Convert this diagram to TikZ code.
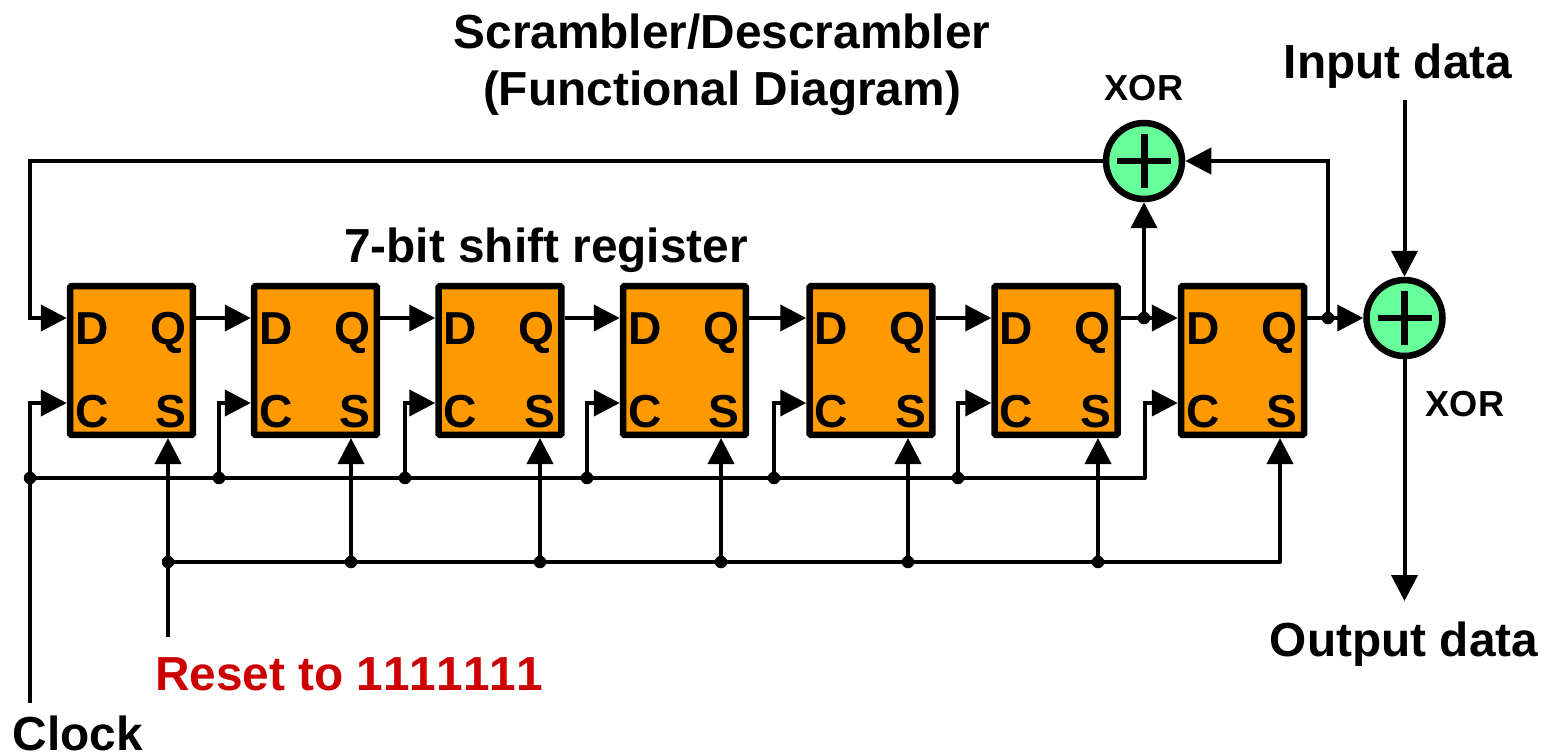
\documentclass[tikz,border=0pt]{standalone}
\usepackage{fontspec}
\setmainfont{Liberation Sans}
\usetikzlibrary{positioning, calc, arrows.meta}

\definecolor{regorange}{HTML}{FF9900}
\definecolor{xorgreen}{HTML}{66FF99}
\definecolor{resetred}{HTML}{CC0000}

\tikzset{
    reg/.style={draw, line width=0.13cm, fill=regorange, rounded corners=0.03cm, minimum width=2.46cm, minimum height=2.98cm, inner sep=0, outer sep=0.065cm},
    pinlabel/.style={inner sep=0, anchor=base, font=\fontsize{26.3}{26.3}\selectfont\bfseries},
    xorgate/.style={draw, circle, line width=0.13cm, fill=xorgreen, minimum size=1.52cm, inner sep=0, outer sep=0.065cm},
    wire/.style={line width=0.08cm},
    feed/.style={wire, -{Triangle[length=0.52cm, width=0.52cm]}},
    dot/.style={circle, fill=black, minimum size=0.25cm, inner sep=0},
    caption/.style={inner sep=0, anchor=base, font=\fontsize{27.2}{27.2}\selectfont\bfseries},
    smallcaption/.style={inner sep=0, anchor=base, font=\fontsize{20.6}{20.6}\selectfont\bfseries},
}

\begin{document}
\begin{tikzpicture}[x=0.02cm, y=-0.02cm]
    \useasboundingbox (0,0) rectangle (1545,755);

    % registers
    \foreach \n/\x/\s/\t in {1/131.5/168/30, 2/315.5/351/219, 3/500/540/405, 4/684.5/721/587, 5/871/908/774, 6/1056/1098/958, 7/1242.5/1280/1145} {
        \node[reg] (r\n) at (\x,360.5) {};
        \node[pinlabel] (d\n) at ($(r\n)+(-39.5,-16.5)$) {D};
        \node[pinlabel] (q\n) at ($(r\n)+(36.5,-16.5)$) {Q};
        \node[pinlabel] (c\n) at ($(r\n)+(-39.5,66.5)$) {C};
        \node[pinlabel] (s\n) at ($(r\n)+(39.5,66.5)$) {S};
        \coordinate (din\n) at (r\n.west |- 0,318);
        \coordinate (qout\n) at (r\n.east |- 0,318);
        \coordinate (cin\n) at (r\n.west |- 0,403);
        \coordinate (sin\n) at (\s,438);
        \coordinate (ctap\n) at (\t,478);
        \coordinate (stap\n) at (\s,562);
    }

    % xor gates
    \node[xorgate] (x1) at (1144,161) {};
    \node[xorgate] (x2) at (1404.5,318) {};
    \foreach \g in {x1, x2} {
        \draw[line width=0.13cm] ($(\g)-(27,0)$) -- ($(\g)+(27,0)$);
        \draw[line width=0.14cm] ($(\g)-(0,27)$) -- ($(\g)+(0,27)$);
    }

    % shift chain
    \foreach \a/\b in {1/2, 2/3, 3/4, 4/5, 5/6, 6/7} {
        \draw[feed] (qout\a) -- (din\b);
    }

    % clock
    \coordinate (clkend) at (30,703);
    \draw[wire] (clkend) -- (ctap1);
    \draw[wire, line cap=round] (ctap1) -- (ctap7);
    \foreach \n in {1,...,7} {
        \draw[feed] (ctap\n) |- (cin\n);
    }
    \foreach \n in {1,...,6} {
        \node[dot] (cdot\n) at (ctap\n) {};
    }

    % reset
    \coordinate (rstend) at (168,637);
    \draw[wire] (rstend) -- (stap1);
    \draw[wire, line cap=round] (stap1) -- (stap7);
    \foreach \n in {1,...,7} {
        \draw[feed] (stap\n) -- (sin\n);
    }
    \foreach \n in {1,...,6} {
        \node[dot] (sdot\n) at (stap\n) {};
    }

    % feedback
    \draw[feed] (x1.west) -- (30,161) |- (din1);
    \node[dot] (tap1) at (x1 |- qout6) {};
    \node[dot] (tap2) at (1328,318) {};
    \draw[feed] (tap1.center) -- (x1.south);
    \draw[feed] (tap2.center) |- (x1.east);
    \draw[feed] (qout7) -- (x2.west);

    % data in and out
    \coordinate (inend) at (x2 |- 0,100);
    \coordinate (outend) at (x2 |- 0,601);
    \draw[feed] (inend) -- (x2.north);
    \draw[feed] (x2.south) -- (outend);

    % labels
    \node[caption] (title1) at (722,48) {Scrambler/Descrambler};
    \node[caption] (title2) at (722,105) {(Functional Diagram)};
    \node[caption] (shiftlabel) at (546,262) {7-bit shift register};
    \node[caption] (inlabel) at (1398,78) {Input data};
    \node[caption] (outlabel) at (1404,656) {Output data};
    \node[caption, text=resetred] (rstlabel) at (349,690) {\addfontfeatures{Kerning=Off}Reset to 1111111};
    \node[caption] (clklabel) at (78,750) {Clock};
    \node[smallcaption] (xorlabel1) at (1144,100) {XOR};
    \node[smallcaption] (xorlabel2) at (1465,416) {XOR};
\end{tikzpicture}
\end{document}
